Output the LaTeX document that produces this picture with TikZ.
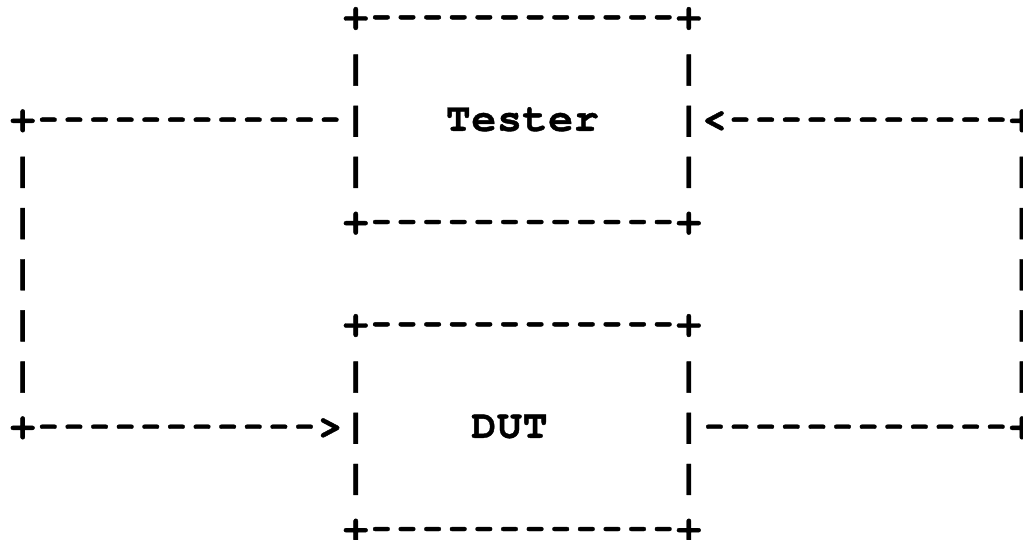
\documentclass[tikz,border=0pt]{standalone}
\usepackage{graphicx}
\usepackage{fontspec}
\newfontfamily\asciifont{TeX Gyre Cursor}[BoldFeatures={FakeBold=1}]
\newlength\charw
\setlength\charw{25.62pt}
\ExplSyntaxOn
\NewDocumentCommand\spaced{m}{\tl_map_inline:nn {#1}
  {\makebox[\charw][c]{\str_if_eq:nnTF {##1}{-}{\scalebox{0.8}[1]{-}}{\scalebox{1.04}[1]{##1}}}}}
\ExplSyntaxOff
\tikzset{
  seg/.style={anchor=base west, inner sep=0pt, outer sep=0pt,
    font={\asciifont\bfseries\fontsize{40pt}{44pt}\selectfont}},
}
\newcommand\seg[4]{\node[seg] (#1) at ({9.89+25.62*#2},{28.5+51.17*#3}) {\spaced{#4}};}
\begin{document}
\begin{tikzpicture}[x=1pt,y=-1pt]
\fill[white] (0,0) rectangle (1023,540);
\useasboundingbox (0,0) rectangle (1023,540);
% Tester box
\seg{ttop}{13}{0}{+------------+}
\seg{tl1}{13}{1}{|}
\seg{tr1}{26}{1}{|}
\seg{leftTop}{0}{2}{+------------|}
\seg{tester}{17}{2}{Tester}
\seg{rightTop}{26}{2}{|<-----------+}
\seg{l3}{0}{3}{|}
\seg{tl3}{13}{3}{|}
\seg{tr3}{26}{3}{|}
\seg{r3}{39}{3}{|}
\seg{l4}{0}{4}{|}
\seg{tbot}{13}{4}{+------------+}
\seg{r4}{39}{4}{|}
\seg{l5}{0}{5}{|}
\seg{r5}{39}{5}{|}
% DUT box
\seg{l6}{0}{6}{|}
\seg{dtop}{13}{6}{+------------+}
\seg{r6}{39}{6}{|}
\seg{l7}{0}{7}{|}
\seg{dl7}{13}{7}{|}
\seg{dr7}{26}{7}{|}
\seg{r7}{39}{7}{|}
\seg{leftBot}{0}{8}{+----------->|}
\seg{dut}{18}{8}{DUT}
\seg{rightBot}{26}{8}{|------------+}
\seg{dl9}{13}{9}{|}
\seg{dr9}{26}{9}{|}
\seg{dbot}{13}{10}{+------------+}
\end{tikzpicture}
\end{document}
